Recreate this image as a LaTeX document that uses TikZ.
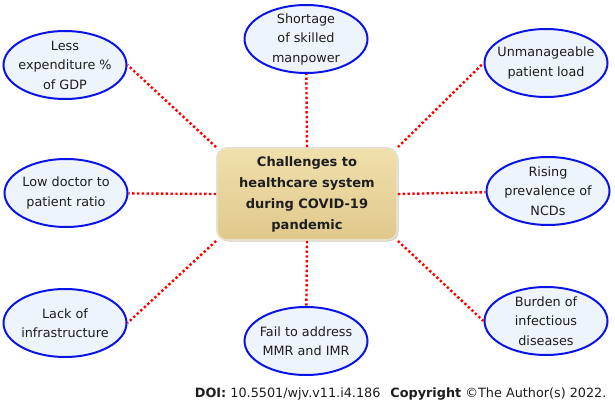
\documentclass[tikz,border=0pt]{standalone}
\usepackage{fontspec}
\setmainfont{DejaVu Sans}
\usetikzlibrary{shapes.geometric, shadows}
\definecolor{ringblue}{RGB}{10,20,230}
\definecolor{ringfill}{RGB}{238,244,252}
\definecolor{hubtop}{RGB}{240,224,172}
\definecolor{hubbottom}{RGB}{224,200,140}
\definecolor{hubedge}{RGB}{232,224,204}
\definecolor{inkgrey}{RGB}{30,30,30}

\begin{document}
\begin{tikzpicture}[
    x=1pt, y=-1pt,
    issue/.style={ellipse, draw=ringblue, fill=ringfill, line width=2pt,
                  minimum width=123pt, minimum height=68pt,
                  inner xsep=-10pt, inner ysep=-10pt, align=center, text=inkgrey,
                  font=\fontsize{12.8}{19.5}\selectfont},
    hub/.style={rectangle, rounded corners=10pt, draw=hubedge, line width=1.8pt,
                top color=hubtop, bottom color=hubbottom,
                minimum width=180pt, minimum height=92pt, align=center, text=inkgrey,
                font=\fontsize{13}{21}\selectfont\bfseries,
                drop shadow={opacity=0.4, shadow xshift=1.5pt, shadow yshift=-1.5pt}},
    link/.style={red, line width=2.4pt, dash pattern=on 2.4pt off 2.4pt}
]
    \useasboundingbox (0,0) rectangle (615,409);

    % --- Central box ---
    \node[hub] (hub) at (307,194)
      {Challenges to\\healthcare system\\during COVID-19\\pandemic};

    % --- Surrounding challenges ---
    \node[issue] (gdp)    at (65,65)   {Less\\expenditure \%\\of GDP};
    \node[issue] (staff)  at (306,39)  {Shortage\\of skilled\\manpower};
    \node[issue] (load)   at (546,63)  {Unmanageable\\patient load};
    \node[issue] (doctor) at (66,193)  {Low doctor to\\patient ratio};
    \node[issue] (ncd)    at (548,191) {Rising\\prevalence of\\NCDs};
    \node[issue] (infra)  at (65,323)  {Lack of\\infrastructure};
    \node[issue] (mmr)    at (306,341) {Fail to address\\MMR and IMR};
    \node[issue] (infect) at (546,321) {Burden of\\infectious\\diseases};

    % --- Dotted links (box corners to ellipse sides) ---
    \draw[link] (hub.north west) -- (gdp.east);
    \draw[link] (hub.north) -- (staff);
    \draw[link] (hub.north east) -- (load.west);
    \draw[link] (hub.west) -- (doctor);
    \draw[link] (hub.east) -- (ncd);
    \draw[link] (hub.south west) -- (infra.east);
    \draw[link] (hub.south) -- (mmr);
    \draw[link] (hub.south east) -- (infect.west);

    % --- Source line ---
    \node[anchor=base east, font=\fontsize{12.8}{15}\selectfont, text=inkgrey] (doi) at (610,397)
      {\textbf{DOI:} 10.5501/wjv.v11.i4.186\hspace{10pt}\textbf{Copyright} ©The Author(s) 2022.};
\end{tikzpicture}
\end{document}
